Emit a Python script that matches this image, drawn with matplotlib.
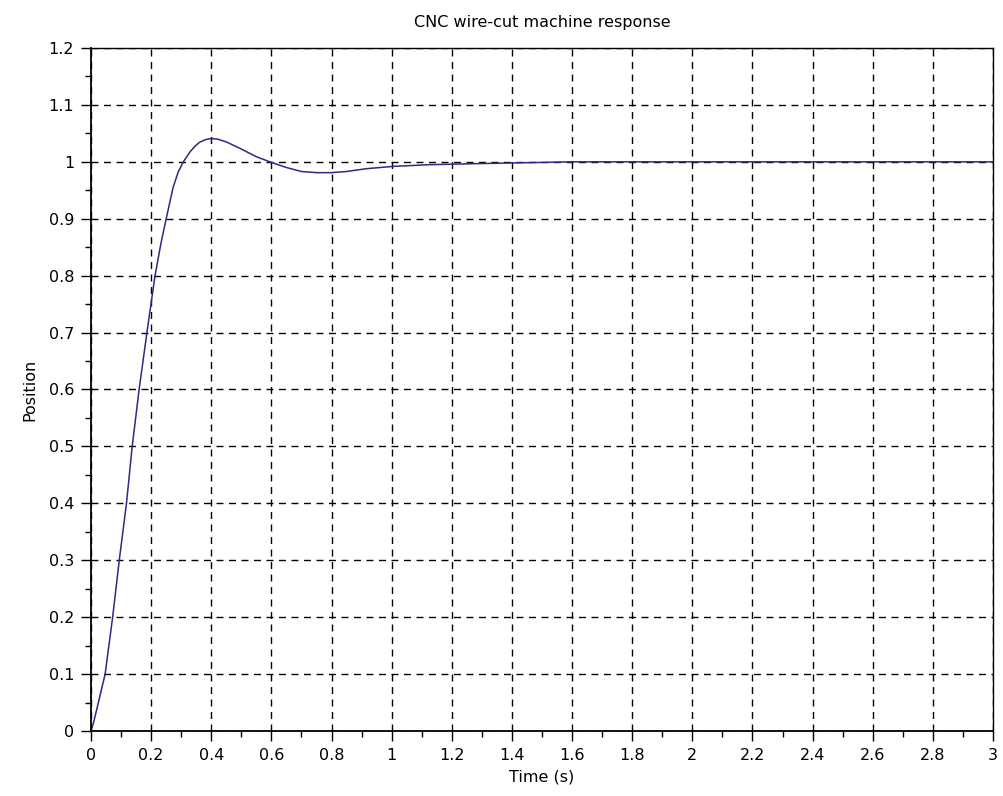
import matplotlib
matplotlib.use("Agg")
import matplotlib.pyplot as plt
from matplotlib.ticker import MultipleLocator

# Data (step response)
time_s = [0.0, 0.01, 0.02, 0.047, 0.072, 0.094, 0.118, 0.137, 0.160, 0.186, 0.213,
          0.232, 0.25, 0.273, 0.29, 0.307, 0.33, 0.345, 0.36, 0.38, 0.40, 0.42,
          0.45, 0.494, 0.55, 0.595, 0.65, 0.70, 0.75, 0.80, 0.85, 0.917, 1.005,
          1.127, 1.30, 1.50, 1.60, 2.0, 2.5, 3.0]
position = [0.0, 0.018, 0.040, 0.1, 0.2, 0.3, 0.4, 0.5, 0.6, 0.7, 0.8,
            0.855, 0.9, 0.955, 0.982, 1.0, 1.018, 1.027, 1.034, 1.039, 1.041, 1.040,
            1.035, 1.024, 1.009, 1.0, 0.990, 0.983, 0.981, 0.981, 0.983, 0.988, 0.992,
            0.995, 0.997, 0.999, 1.0, 1.0, 1.0, 1.0]

title = "CNC wire-cut machine response"
xlabel = "Time (s)"
ylabel = "Position"

plt.rcParams['font.family'] = ['DejaVu Sans']

fig = plt.figure(figsize=(10.04, 7.96), dpi=100)
ax = fig.add_axes([91/1004, 1-731/796, (993-91)/1004, (731-48)/796])

ax.plot(time_s, position, color='#2b2b80', linewidth=1.1)

ax.set_xlim(0, 3)
ax.set_ylim(0, 1.2)
ax.xaxis.set_major_locator(MultipleLocator(0.2))
ax.xaxis.set_minor_locator(MultipleLocator(0.1))
ax.yaxis.set_major_locator(MultipleLocator(0.1))
ax.yaxis.set_minor_locator(MultipleLocator(0.05))

def fmt(v, pos):
    s = f"{v:.1f}"
    if s.endswith(".0"):
        s = s[:-2]
    return s
ax.xaxis.set_major_formatter(fmt)
ax.yaxis.set_major_formatter(fmt)

ax.grid(True, which='major', color='black', linestyle=(0, (5, 4)), linewidth=1.0)
ax.tick_params(which='major', direction='out', length=7.2, width=1.0, labelsize=11.5, pad=5)
ax.tick_params(which='minor', direction='out', length=4.3, width=1.0)
for s in ['left', 'bottom']:
    ax.spines[s].set_linewidth(1.3)
for s in ['top', 'right']:
    ax.spines[s].set_linewidth(1.0)

ax.set_title(title, fontsize=11.5, pad=15)
ax.set_xlabel(xlabel, fontsize=11.5, labelpad=5)
ax.set_ylabel(ylabel, fontsize=11.5, labelpad=8)

fig.savefig("out.png", dpi=100)
